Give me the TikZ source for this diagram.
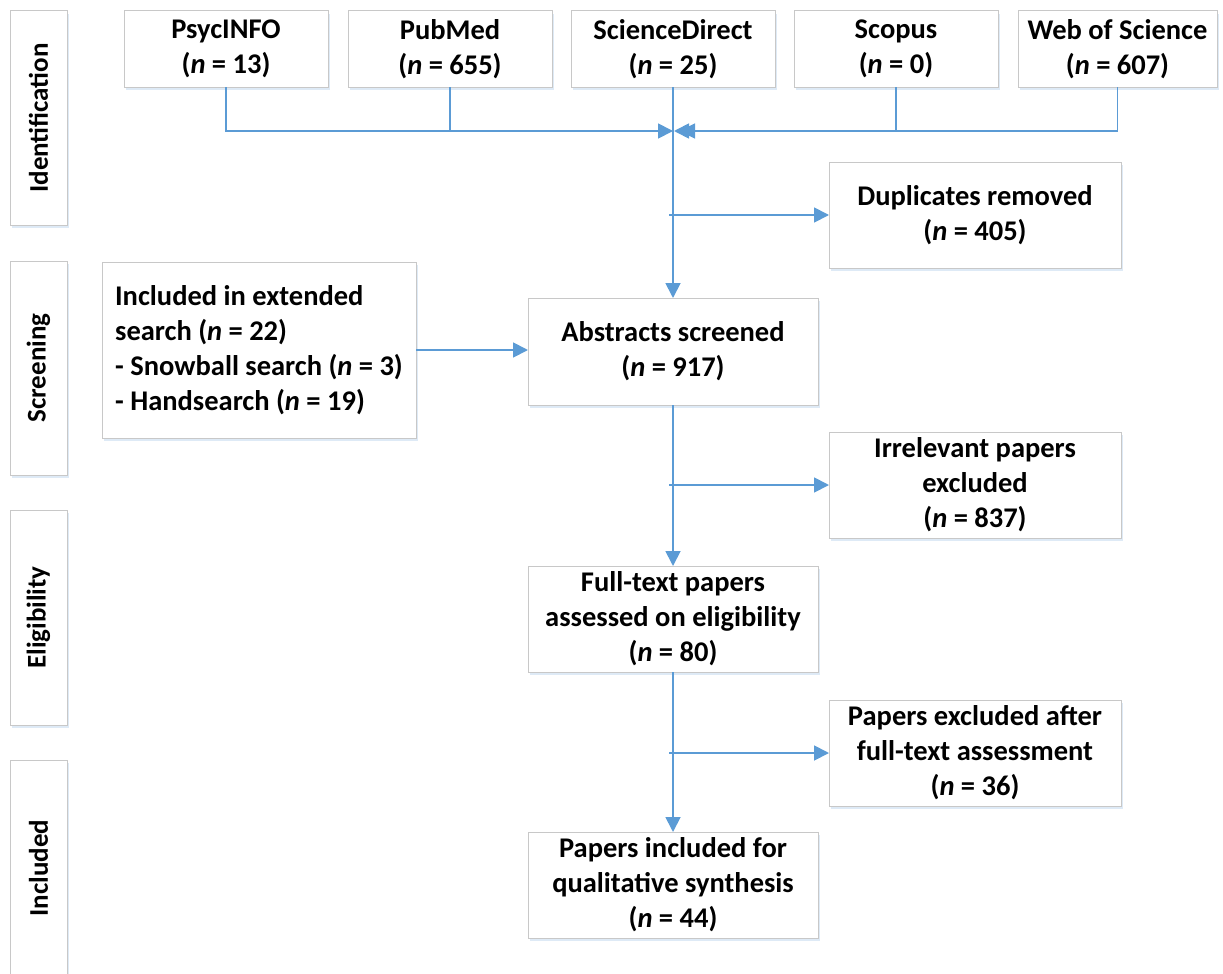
\documentclass[tikz,border=0pt]{standalone}
\usepackage{fontspec}
\setmainfont{Carlito}
\usetikzlibrary{arrows.meta,shadows}
\definecolor{lineblue}{RGB}{91,155,213}
\definecolor{boxgray}{RGB}{200,200,200}
\definecolor{shadowblue}{RGB}{200,220,240}
\tikzset{
  box/.style={draw=boxgray, line width=1pt, fill=white, align=center, outer sep=0pt, inner sep=0pt,
    font=\bfseries\fontsize{28.5}{35}\selectfont,
    drop shadow={shadow xshift=1.5pt, shadow yshift=-3pt, fill=shadowblue, opacity=0.6}},
  sidetext/.style={rotate=90, font=\bfseries\fontsize{27}{30}\selectfont},
  conn/.style={draw=lineblue, line width=1.8pt},
  arr/.style={conn, -{Triangle[length=15pt,width=15pt]}},
}
\newcommand\pbox[6]{\node[box, minimum width={#4-#2}, minimum height={#5-#3}] (#1) at ({(#2+#4)/2},{(#3+#5)/2}) {#6};}
\newcommand\nn[1]{(\textit{n} = #1)}
\begin{document}
\begin{tikzpicture}[x=1pt,y=-1pt]
\useasboundingbox (0,0) rectangle (1223,974);
% side labels
\pbox{ident}{10}{11}{67}{225}{}
\node[sidetext] (identT) at (ident) {Identification};
\pbox{screen}{10}{261}{67}{475}{}
\node[sidetext] (screenT) at (screen) {Screening};
\pbox{elig}{10}{510}{67}{725}{}
\node[sidetext] (eligT) at (elig) {Eligibility};
\pbox{incl}{10}{760}{67}{980}{}
\node[sidetext] (inclT) at (10+28.5,868) {Included};
% top databases
\pbox{psyc}{124}{11}{328}{87}{PsycINFO\\\nn{13}}
\pbox{pubmed}{348}{11}{552}{87}{PubMed\\\nn{655}}
\pbox{sd}{571}{11}{775}{87}{ScienceDirect\\\nn{25}}
\pbox{scopus}{794}{11}{998}{87}{Scopus\\\nn{0}}
\pbox{wos}{1018}{11}{1217}{87}{Web of Science\\\nn{607}}
% flow boxes
\pbox{dup}{829}{162}{1121}{268}{Duplicates removed\\\nn{405}}
\node[box, align=left, minimum width=314, minimum height=176] (ext) at (259,350)
  {Included in extended\\search \nn{22}\\- Snowball search \nn{3}\\- Handsearch \nn{19}};
\pbox{abs}{528}{298}{818}{405}{Abstracts screened\\\nn{917}}
\pbox{irr}{829}{432}{1121}{538}{Irrelevant papers\\excluded\\\nn{837}}
\pbox{full}{528}{566}{818}{672}{Full-text papers\\assessed on eligibility\\\nn{80}}
\pbox{excl}{829}{700}{1121}{806}{Papers excluded after\\full-text assessment\\\nn{36}}
\pbox{final}{528}{832}{818}{938}{Papers included for\\qualitative synthesis\\\nn{44}}
% connectors
\coordinate (mL) at (673,131);
\coordinate (mR) at (674,131);
\coordinate (mR2) at (680,131);
\draw[arr] (psyc.south) |- (mL);
\draw[conn] (pubmed.south) -- (pubmed.south |- mL);
\draw[arr] (wos.south) |- (mR);
\draw[arr] (scopus.south) |- (mR2);
\draw[arr] (sd.south) -- (abs.north);
\coordinate (b1) at (669,215);
\draw[arr] (b1) -- (dup.west);
\draw[arr] (ext.east) -- (ext.east -| abs.west);
\draw[arr] (abs.south) -- (full.north);
\coordinate (b2) at (669,485);
\draw[arr] (b2) -- (irr.west);
\draw[arr] (full.south) -- (final.north);
\coordinate (b3) at (669,753);
\draw[arr] (b3) -- (excl.west);
\end{tikzpicture}
\end{document}
